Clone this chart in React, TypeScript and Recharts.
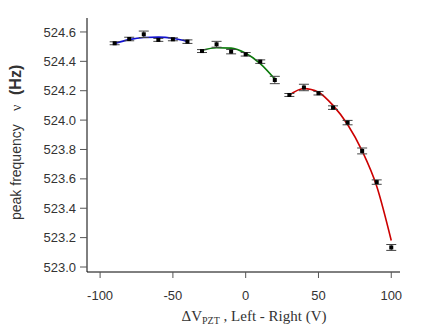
import { ComposedChart, ErrorBar, Line, Scatter, XAxis, YAxis, Label } from "recharts";

// measured points (V, Hz) with error
const blueX = [-90, -80, -70, -60, -50, -40];
const blueY = [524.523, 524.552, 524.584, 524.546, 524.55, 524.534];
const blueErr = [0.01, 0.012, 0.022, 0.01, 0.01, 0.012];

const greenX = [-30, -20, -10, 0, 10, 20];
const greenY = [524.47, 524.516, 524.466, 524.448, 524.398, 524.273];
const greenErr = [0.01, 0.02, 0.015, 0.012, 0.012, 0.025];

const redX = [30, 40, 50, 60, 70, 80, 90, 100];
const redY = [524.171, 524.222, 524.183, 524.085, 523.983, 523.79, 523.578, 523.133];
const redErr = [0.01, 0.022, 0.012, 0.012, 0.015, 0.02, 0.015, 0.02];

// fitted curves
const blueFit = [524.522, 524.548, 524.562, 524.565, 524.557, 524.535];
const greenFit = [524.475, 524.492, 524.49, 524.455, 524.385, 524.28];
const redFit = [524.17, 524.215, 524.19, 524.1, 523.97, 523.79, 523.55, 523.18];

const xTicks = [-100, -50, 0, 50, 100];
const yTicks = [523.0, 523.2, 523.4, 523.6, 523.8, 524.0, 524.2, 524.4, 524.6];

const pts = (xs: number[], ys: number[], es: number[]) => xs.map((x, i) => ({ x, y: ys[i], err: es[i] }));
const fit = (xs: number[], ys: number[]) => xs.map((x, i) => ({ x, y: ys[i] }));

const points = [...pts(blueX, blueY, blueErr), ...pts(greenX, greenY, greenErr), ...pts(redX, redY, redErr)];

const Square = (props: any) => <rect x={props.cx - 2} y={props.cy - 2} width={4} height={4} fill="#000" />;

const YLabel = () => (
  <g transform="translate(21,220) rotate(-90)" fill="#333">
    <text x={0} y={0} fontFamily="Liberation Sans" fontSize={14}>peak frequency</text>
    <text x={109} y={0} fontFamily="Liberation Serif" fontSize={14}>ν</text>
    <text x={125} y={0} fontFamily="Liberation Sans" fontSize={16} fontWeight="bold">(Hz)</text>
  </g>
);

const XLabel = () => (
  <text x={254} y={321} textAnchor="middle" fill="#333" fontFamily="Liberation Serif" fontSize={15}>
    <tspan>ΔV</tspan>
    <tspan fontSize={10} dy={3}>PZT</tspan>
    <tspan dy={-3}> , Left - Right (V)</tspan>
  </text>
);

export default function App() {
  const tick = { fontFamily: "Liberation Sans", fontSize: 13, fill: "#333" };
  return (
    <div>
      <style>{`body{margin:0}`}</style>
      <ComposedChart width={436} height={327} margin={{ top: 18, right: 36, bottom: 25, left: 0 }}>
        <XAxis
          type="number"
          dataKey="x"
          height={30}
          domain={[-109, 106]}
          ticks={xTicks}
          allowDataOverflow
          tick={tick}
          tickSize={6}
          tickMargin={13}
          stroke="#000"
          tickLine={{ stroke: "#555" }}
        >
          <Label content={XLabel} />
        </XAxis>
        <YAxis
          type="number"
          dataKey="y"
          width={87}
          domain={[522.966, 524.695]}
          ticks={yTicks}
          allowDataOverflow
          tickFormatter={(v: number) => v.toFixed(1)}
          tick={tick}
          tickSize={7}
          tickMargin={4}
          stroke="#000"
          tickLine={{ stroke: "#555" }}
        >
          <Label content={YLabel} />
        </YAxis>
        <Line data={fit(blueX, blueFit)} dataKey="y" type="monotone" stroke="#1010d0" strokeWidth={1.6} dot={false} isAnimationActive={false} />
        <Line data={fit(greenX, greenFit)} dataKey="y" type="monotone" stroke="#0a7a0a" strokeWidth={1.6} dot={false} isAnimationActive={false} />
        <Line data={fit(redX, redFit)} dataKey="y" type="monotone" stroke="#cc0000" strokeWidth={1.6} dot={false} isAnimationActive={false} />
        <Scatter data={points} dataKey="y" shape={Square} isAnimationActive={false}>
          <ErrorBar dataKey="err" direction="y" width={5} stroke="#444" strokeWidth={1} />
        </Scatter>
      </ComposedChart>
    </div>
  );
}
